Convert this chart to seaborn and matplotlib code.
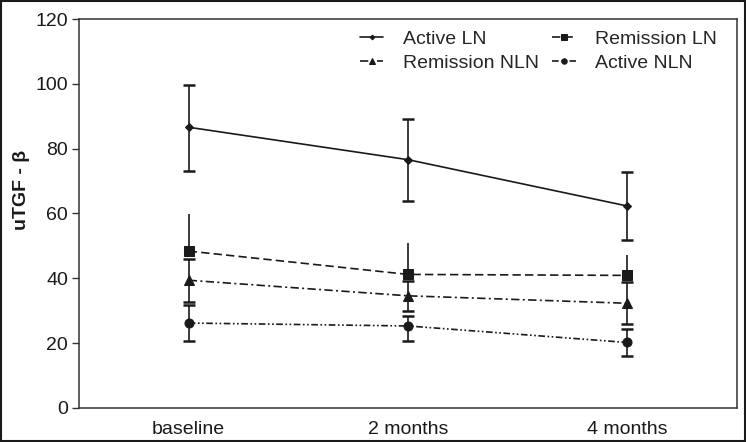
import numpy as np
import pandas as pd
import matplotlib
matplotlib.use("Agg")
import matplotlib.pyplot as plt
import seaborn as sns

times = ["baseline", "2 months", "4 months"]
groups = ["Active LN", "Remission LN", "Remission NLN", "Active NLN"]

active_ln = [86.6, 76.6, 62.3]
remission_ln = [48.4, 41.2, 40.9]
remission_nln = [39.4, 34.6, 32.3]
active_nln = [26.2, 25.3, 20.2]

# error bars (lower, upper)
active_ln_lo = [13.5, 12.8, 10.5]
active_ln_hi = [13.1, 12.6, 10.4]
remission_ln_lo = [0, 0, 0]
remission_ln_hi = [11.3, 9.8, 6.2]
remission_nln_lo = [6.6, 4.7, 6.5]
remission_nln_hi = [6.6, 4.7, 6.5]
active_nln_lo = [5.5, 4.6, 4.3]
active_nln_hi = [5.5, 3.1, 4.1]

df = pd.DataFrame({
    "time": times * 4,
    "group": np.repeat(groups, 3),
    "value": active_ln + remission_ln + remission_nln + active_nln,
})

sns.set_style("white")
plt.rcParams["font.family"] = ["Liberation Sans", "DejaVu Sans"]

fig = plt.figure(figsize=(7.46, 4.42), dpi=100)
ax = fig.add_axes([0.106, 0.077, 0.882, 0.880])

dashes = {
    "Active LN": "",
    "Remission LN": (5, 2.5),
    "Remission NLN": (5, 2, 1.2, 2),
    "Active NLN": (4, 1.5, 1, 1.5, 1, 1.5),
}
markers = {"Active LN": "D", "Remission LN": "s", "Remission NLN": "^", "Active NLN": "o"}
sizes = {"Active LN": 4, "Remission LN": 6.5, "Remission NLN": 6.5, "Active NLN": 6.5}

errs = {
    "Active LN": (active_ln, active_ln_lo, active_ln_hi, 4.5),
    "Remission LN": (remission_ln, remission_ln_lo, remission_ln_hi, 0),
    "Remission NLN": (remission_nln, remission_nln_lo, remission_nln_hi, 4.5),
    "Active NLN": (active_nln, active_nln_lo, active_nln_hi, 4.5),
}

for g in groups:
    sub = df[df["group"] == g]
    sns.lineplot(data=sub, x="time", y="value", ax=ax, color="#1a1a1a",
                 linewidth=1.2, marker=markers[g], markersize=sizes[g],
                 markeredgecolor="#1a1a1a", label=g, sort=False)
    if dashes[g]:
        ax.lines[-1].set_dashes(dashes[g])
    vals, lo, hi, cap = errs[g]
    ax.errorbar(times, vals, yerr=[lo, hi], fmt="none", ecolor="#1a1a1a",
                elinewidth=1.2, capsize=cap, capthick=1.8)

ax.set_xlim(-0.5, 2.5)
ax.set_ylim(0, 120)
ax.set_yticks(range(0, 121, 20))
ax.set_xlabel("")
ax.set_ylabel("")
fig.text(21 / 746, 0.57, "uTGF - β", rotation=90, ha="center", va="center",
         fontsize=14, fontweight="bold", color="#1a1a1a")
ax.tick_params(axis="y", left=True, length=5, width=1, color="#333333",
               labelsize=14, pad=3, labelcolor="#1a1a1a")
ax.tick_params(axis="x", bottom=False, labelsize=14, pad=6, labelcolor="#1a1a1a")
for s in ax.spines.values():
    s.set_color("#333333")
    s.set_linewidth(1.1)

order = ["Active LN", "Remission NLN", "Remission LN", "Active NLN"]
h, l = ax.get_legend_handles_labels()
lines = [h[l.index(n)] for n in order]
ax.legend(lines, order, ncol=2, frameon=False, fontsize=14, loc="upper left",
          bbox_to_anchor=(0.427, 0.97), borderaxespad=0, borderpad=0,
          handlelength=1.2, handletextpad=1.0, columnspacing=0.7,
          labelspacing=0.32, markerscale=0.6)

fig.patches.append(plt.Rectangle((0.002, 0.002), 0.996, 0.996, transform=fig.transFigure,
                                 fill=False, edgecolor="#1a1a1a", linewidth=1.5))

fig.savefig("out.png", dpi=100)
